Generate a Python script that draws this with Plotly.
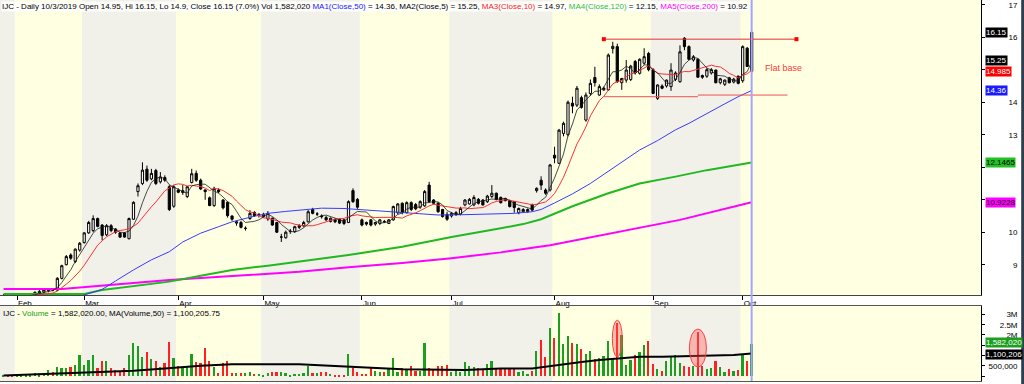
import pandas as pd
import plotly.graph_objects as go

# ---------------- data ----------------
holidays = ["2019-02-04", "2019-02-05", "2019-02-06", "2019-02-07", "2019-02-08",
            "2019-04-15", "2019-04-29", "2019-04-30", "2019-05-01", "2019-09-02"]
dates = [d for d in pd.bdate_range("2019-01-29", "2019-10-03")
         if d.strftime("%Y-%m-%d") not in holidays]

opens = [8.05, 8.05, 8.02, 8.00, 8.02, 8.04, 8.06, 8.08, 8.12, 8.16,
         8.20, 8.25, 8.22, 8.58, 9.00, 9.30, 9.10, 9.45, 9.68, 9.98,
         10.05, 10.42, 10.22, 9.92, 10.20, 10.10, 9.98, 9.98, 9.80, 10.40,
         11.25, 11.50, 11.94, 11.64, 11.90, 11.55, 11.68, 11.40, 10.80, 11.30,
         11.22, 11.10, 11.53, 11.81, 11.60, 11.30, 11.06, 10.82, 11.30, 10.99,
         10.92, 10.50, 10.28, 10.30, 10.12, 10.42, 10.61, 10.52, 10.48, 10.41,
         10.43, 10.30, 9.85, 9.83, 10.02, 10.02, 10.15, 10.20, 10.32, 10.70,
         10.56, 10.50, 10.45, 10.33, 10.39, 10.40, 10.38, 10.30, 11.28, 11.01,
         10.38, 10.30, 10.38, 10.25, 10.27, 10.33, 10.27, 10.38, 10.60, 10.89,
         10.60, 10.91, 10.85, 10.77, 10.81, 11.45, 10.99, 10.89, 10.70, 10.55,
         10.50, 10.55, 10.56, 10.84, 10.87, 10.84, 11.01, 10.99, 10.94, 11.10,
         11.20, 11.07, 11.04, 10.97, 10.94, 10.60, 10.63, 10.63, 10.84, 11.28,
         11.60, 11.30, 11.30, 12.37, 12.12, 13.04, 13.00, 13.97, 13.91, 14.14,
         13.45, 14.27, 14.76, 14.22, 14.38, 14.38, 15.65, 15.71, 14.60, 14.68,
         14.70, 15.25, 14.89, 15.20, 15.50, 15.00, 14.12, 14.50, 14.50, 14.48,
         14.70, 14.63, 15.97, 15.71, 15.30, 15.32, 14.82, 14.80, 14.90, 14.99,
         14.60, 14.55, 14.75, 14.62, 14.80, 14.66, 15.66, 14.95]
highs = [8.10, 8.10, 8.08, 8.08, 8.10, 8.12, 8.12, 8.18, 8.22, 8.28,
         8.28, 8.28, 8.62, 9.00, 9.30, 9.35, 9.50, 9.70, 10.00, 10.35,
         10.52, 10.45, 10.25, 10.25, 10.25, 10.12, 10.00, 10.00, 10.45, 10.95,
         11.50, 12.15, 12.05, 11.95, 11.95, 11.85, 11.75, 11.45, 11.45, 11.35,
         11.45, 11.42, 11.95, 11.90, 11.65, 11.32, 11.10, 11.40, 11.35, 11.02,
         10.95, 10.52, 10.35, 10.35, 10.18, 10.68, 10.65, 10.58, 10.60, 10.65,
         10.45, 10.32, 9.95, 10.05, 10.10, 10.20, 10.25, 10.35, 10.68, 10.75,
         10.62, 10.55, 10.50, 10.45, 10.42, 10.42, 10.40, 10.98, 11.35, 11.05,
         10.42, 10.33, 10.40, 10.32, 10.40, 10.38, 10.40, 10.82, 10.90, 10.92,
         10.95, 10.95, 10.90, 10.98, 11.30, 11.55, 11.02, 10.92, 10.72, 10.63,
         10.62, 10.65, 10.78, 11.02, 11.05, 11.14, 11.05, 11.02, 11.15, 11.45,
         11.22, 11.10, 11.06, 11.00, 10.96, 10.76, 10.74, 10.73, 10.88, 11.38,
         11.72, 11.35, 12.10, 12.63, 13.18, 13.40, 14.05, 14.17, 14.50, 14.20,
         14.30, 14.70, 15.09, 14.55, 14.48, 15.50, 15.86, 15.80, 14.75, 15.30,
         15.15, 15.30, 15.35, 15.66, 15.55, 15.05, 14.55, 14.55, 14.70, 15.20,
         14.95, 15.75, 16.00, 15.75, 15.45, 15.35, 14.85, 15.05, 15.05, 15.00,
         14.75, 14.70, 14.78, 14.75, 14.82, 15.75, 15.70, 16.15]
lows = [8.00, 8.00, 7.98, 7.95, 7.98, 8.00, 8.02, 8.05, 8.08, 8.12,
        8.15, 8.18, 8.20, 8.55, 8.98, 9.15, 9.05, 9.40, 9.65, 9.95,
        10.00, 10.15, 9.75, 9.88, 10.00, 9.95, 9.82, 9.83, 9.78, 10.38,
        11.10, 11.45, 11.55, 11.60, 11.45, 11.50, 11.55, 10.65, 10.75, 11.20,
        11.15, 11.05, 11.50, 11.55, 11.30, 11.00, 10.80, 10.78, 11.20, 10.70,
        10.45, 10.35, 10.20, 10.12, 10.05, 10.38, 10.48, 10.45, 10.45, 10.35,
        10.20, 9.98, 9.70, 9.80, 9.95, 9.98, 10.10, 10.15, 10.30, 10.55,
        10.50, 10.42, 10.35, 10.30, 10.28, 10.25, 10.22, 10.28, 10.90, 10.72,
        10.18, 10.20, 10.18, 10.20, 10.22, 10.28, 10.25, 10.35, 10.55, 10.55,
        10.58, 10.65, 10.68, 10.72, 10.78, 10.90, 10.85, 10.60, 10.45, 10.35,
        10.45, 10.50, 10.52, 10.80, 10.85, 10.80, 10.85, 10.82, 10.90, 11.05,
        10.98, 10.88, 10.95, 10.76, 10.60, 10.55, 10.60, 10.60, 10.64, 11.22,
        11.30, 11.15, 11.25, 12.12, 12.10, 12.95, 12.95, 13.66, 13.85, 13.80,
        13.40, 14.20, 14.48, 14.20, 14.35, 14.35, 15.50, 14.60, 14.38, 14.60,
        14.65, 14.85, 14.85, 15.15, 14.95, 14.25, 14.07, 14.40, 14.45, 14.35,
        14.65, 14.60, 15.60, 15.30, 15.25, 14.75, 14.72, 14.75, 14.85, 14.58,
        14.55, 14.50, 14.58, 14.58, 14.55, 14.60, 15.10, 14.90]
closes = [8.05, 8.02, 8.00, 8.02, 8.05, 8.08, 8.10, 8.15, 8.18, 8.24,
          8.25, 8.22, 8.58, 8.97, 9.25, 9.20, 9.48, 9.66, 9.98, 10.30,
          10.42, 10.18, 9.90, 10.20, 10.05, 10.00, 9.85, 9.85, 10.42, 10.92,
          11.43, 11.91, 11.60, 11.81, 11.50, 11.70, 11.60, 10.70, 11.40, 11.23,
          11.28, 11.40, 11.80, 11.60, 11.33, 11.25, 10.82, 11.35, 11.25, 10.75,
          10.51, 10.40, 10.32, 10.15, 10.12, 10.58, 10.51, 10.55, 10.55, 10.58,
          10.22, 10.00, 9.85, 10.00, 10.03, 10.17, 10.20, 10.30, 10.63, 10.58,
          10.56, 10.48, 10.38, 10.43, 10.32, 10.28, 10.27, 10.94, 10.94, 10.77,
          10.22, 10.25, 10.22, 10.30, 10.38, 10.32, 10.38, 10.79, 10.87, 10.60,
          10.91, 10.70, 10.72, 10.94, 11.25, 10.94, 10.89, 10.63, 10.48, 10.40,
          10.58, 10.60, 10.73, 10.99, 11.01, 11.07, 10.89, 10.84, 11.11, 11.20,
          11.01, 10.91, 10.97, 10.79, 10.76, 10.73, 10.70, 10.70, 10.68, 11.35,
          11.45, 11.20, 12.07, 12.28, 13.14, 13.35, 14.00, 13.88, 14.43, 13.84,
          14.22, 14.58, 14.60, 14.48, 14.43, 15.45, 15.72, 14.63, 14.73, 14.99,
          15.11, 14.91, 15.32, 15.40, 15.00, 14.27, 14.53, 14.43, 14.68, 14.99,
          14.90, 15.55, 15.71, 15.32, 15.40, 14.77, 14.77, 15.00, 15.00, 14.60,
          14.72, 14.68, 14.60, 14.71, 14.58, 15.71, 15.10, 16.15]
volumes = [50000, 50000, 20000, 20000, 20000, 50000, 80000, 130000, 50000, 160000,
           290000, 210000, 420000, 370000, 370000, 420000, 540000, 1020000, 540000, 780000,
           1020000, 370000, 730000, 730000, 370000, 290000, 260000, 370000, 1020000, 1630000,
           1460000, 940000, 1190000, 810000, 750000, 420000, 620000, 1670000, 860000, 490000,
           420000, 420000, 1070000, 700000, 650000, 1350000, 730000, 420000, 160000, 650000,
           730000, 160000, 130000, 160000, 160000, 210000, 100000, 100000, 50000, 160000,
           200000, 210000, 200000, 130000, 50000, 100000, 100000, 160000, 490000, 160000,
           160000, 200000, 200000, 100000, 20000, 20000, 30000, 1070000, 410000, 180000,
           100000, 100000, 370000, 260000, 180000, 210000, 370000, 860000, 210000, 370000,
           290000, 490000, 260000, 260000, 1590000, 370000, 290000, 490000, 490000, 540000,
           210000, 260000, 210000, 670000, 490000, 420000, 370000, 290000, 590000, 730000,
           370000, 370000, 370000, 370000, 370000, 210000, 240000, 100000, 240000, 1220000,
           1760000, 910000, 2330000, 1840000, 3060000, 1540000, 1950000, 1630000, 1540000, 1300000,
           1070000, 1220000, 830000, 860000, 980000, 1710000, 810000, 2570000, 2000000, 540000,
           780000, 1020000, 1150000, 1510000, 1710000, 590000, 330000, 260000, 750000, 980000,
           1020000, 650000, 490000, 460000, 490000, 2160000, 490000, 330000, 370000, 750000,
           420000, 210000, 330000, 260000, 290000, 1020000, 750000, 1582020]

# moving averages (bar index, value)
ma50_idx = [0, 10, 18, 22, 25, 29, 33, 37, 40, 44, 48, 51, 55, 59, 63, 66, 71, 76, 81,
            86, 92, 97, 103, 109, 114, 118, 120, 123, 127, 131, 135, 138, 142, 146,
            150, 153, 157, 161, 164, 167]
ma50_val = [7.55, 7.75, 8.07, 8.24, 8.50, 8.84, 9.15, 9.40, 9.70, 9.97, 10.17, 10.32,
            10.46, 10.58, 10.64, 10.68, 10.74, 10.73, 10.68, 10.63, 10.58, 10.53, 10.54,
            10.57, 10.58, 10.63, 10.70, 10.90, 11.18, 11.50, 11.87, 12.15, 12.53, 12.82,
            13.15, 13.35, 13.66, 13.95, 14.17, 14.36]
ma120_idx = [0, 18, 22, 29, 37, 44, 51, 59, 66, 77, 89, 100, 111, 116, 120, 127, 135,
             142, 150, 157, 167]
ma120_val = [8.10, 8.10, 8.22, 8.35, 8.48, 8.66, 8.84, 8.97, 9.09, 9.30, 9.55, 9.85,
             10.12, 10.25, 10.40, 10.80, 11.20, 11.50, 11.71, 11.91, 12.1465]
ma200_idx = [0, 13, 37, 51, 66, 77, 89, 100, 111, 122, 133, 144, 151, 167]
ma200_val = [8.25, 8.25, 8.53, 8.65, 8.78, 8.92, 9.05, 9.20, 9.38, 9.60, 9.90, 10.20,
             10.38, 10.9228]
vma50_idx = [0, 14, 29, 36, 44, 51, 66, 74, 81, 89, 103, 111, 118, 121, 126, 129, 133,
             137, 142, 147, 155, 163, 167]
vma50_val = [30000, 130000, 260000, 370000, 500000, 570000, 570000, 490000, 410000,
             330000, 290000, 360000, 370000, 460000, 620000, 680000, 780000, 860000,
             940000, 940000, 980000, 1020000, 1100205.75]

# drawn "flat base" markup (bar index, price)
base_x = [134, 155, 177]
base_top = 15.94
base_low = [14.17, 14.22]
circled_bars = [137, 155]

title_text = ("IJC - Daily 10/3/2019 Open 14.95, Hi 16.15, Lo 14.9, Close 16.15 (7.0%) Vol 1,582,020 "
              "<span style='color:#2020ff'>MA1(Close,50)</span> = 14.36, MA2(Close,5) = 15.25, "
              "<span style='color:#ff2020'>MA3(Close,10)</span> = 14.97, "
              "<span style='color:#30c030'>MA4(Close,120)</span> = 12.15, "
              "<span style='color:#ff00ff'>MA5(Close,200)</span> = 10.92")
vol_title_text = ("IJC - <span style='color:#20a020'>Volume</span> = 1,582,020.00, "
                  "MA(Volume,50) = 1,100,205.75")

# ---------------- derived ----------------
n = len(dates)
idx = list(range(n))
ma5 = pd.Series(closes).rolling(5, min_periods=1).mean().round(4).tolist()
ma10 = pd.Series(closes).rolling(10, min_periods=1).mean().round(4).tolist()
vol_colors = ["#1e9e1e" if c >= o else "#ff2020" for o, c in zip(opens, closes)]

month_starts = [i for i in range(n) if i == 0 or dates[i].month != dates[i - 1].month]
tick_idx = month_starts[1:]
tick_txt = [dates[i].strftime("%b") for i in tick_idx]

X_LO, X_HI = -0.8, 218.2
FONT = "Liberation Sans, Arial, sans-serif"
YELLOW = "#FFFFE2"
GREY = "#F1F1EA"

PRICE_DOM = [0.2257, 1.0]
VOL_DOM = [0.0, 0.1969]

fig = go.Figure()

# price pane
fig.add_trace(go.Candlestick(
    x=idx, open=opens, high=highs, low=lows, close=closes,
    increasing=dict(line=dict(color="black", width=1), fillcolor="white"),
    decreasing=dict(line=dict(color="black", width=1), fillcolor="black"),
    whiskerwidth=0, showlegend=False, hoverinfo="skip", xaxis="x", yaxis="y"))
fig.add_trace(go.Scatter(x=ma200_idx, y=ma200_val, mode="lines",
                         line=dict(color="#ff00ff", width=2), showlegend=False))
fig.add_trace(go.Scatter(x=ma120_idx, y=ma120_val, mode="lines",
                         line=dict(color="#22b822", width=2), showlegend=False))
fig.add_trace(go.Scatter(x=ma50_idx, y=ma50_val, mode="lines",
                         line=dict(color="#3a3aff", width=1), showlegend=False))
fig.add_trace(go.Scatter(x=idx, y=ma10, mode="lines",
                         line=dict(color="#ff3030", width=1), showlegend=False))
fig.add_trace(go.Scatter(x=idx, y=ma5, mode="lines",
                         line=dict(color="#202020", width=0.8), showlegend=False))
# flat base markup
fig.add_trace(go.Scatter(x=[base_x[0], base_x[2]], y=[base_top, base_top], mode="lines+markers",
                         line=dict(color="#e83030", width=1),
                         marker=dict(symbol="square", size=4, color="#ff0000"),
                         showlegend=False))
fig.add_trace(go.Scatter(x=[base_x[0], base_x[1], None, base_x[1], base_x[2] - 2],
                         y=[base_low[0], base_low[0], None, base_low[1], base_low[1]],
                         mode="lines", line=dict(color="#f05050", width=1), showlegend=False))

# volume pane
fig.add_trace(go.Bar(x=idx, y=volumes, marker=dict(color=vol_colors, line=dict(width=0)),
                     width=0.38, showlegend=False, xaxis="x2", yaxis="y2"))
fig.add_trace(go.Scatter(x=vma50_idx, y=vma50_val, mode="lines",
                         line=dict(color="#000000", width=2), showlegend=False,
                         xaxis="x2", yaxis="y2"))

shapes = []
bounds = [X_LO] + [s - 0.5 for s in month_starts[1:]] + [X_HI]
for k in range(len(bounds) - 1):
    if k % 2 == 0:
        for yr in ("y domain", "y2 domain"):
            shapes.append(dict(type="rect", xref="x", yref=yr, x0=bounds[k], x1=bounds[k + 1],
                               y0=0, y1=1, fillcolor=GREY, line=dict(width=0), layer="below"))
# circled volume bars
for b in circled_bars:
    v = volumes[b]
    half = 1.1 if v > 2.4e6 else 1.9
    shapes.append(dict(type="circle", xref="x2", yref="y2", x0=b - half, x1=b + half,
                       y0=v * 0.36 if v > 2.4e6 else v * 0.2, y1=v * 1.06,
                       fillcolor="rgba(255,90,90,0.38)", line=dict(color="#ff4040", width=1)))
# cursor line on last bar
shapes.append(dict(type="line", xref="x", yref="paper", x0=n - 1, x1=n - 1, y0=0, y1=1,
                   line=dict(color="#a4a4ff", width=2)))
# window border
shapes.append(dict(type="line", xref="paper", yref="paper", x0=1.0425, x1=1.0425, y0=-0.01, y1=1.01,
                   line=dict(color="#2f3f50", width=3)))

ann = []
ann.append(dict(xref="paper", yref="paper", x=0, y=1, xanchor="left", yanchor="top",
                text=title_text, showarrow=False, font=dict(family=FONT, size=8, color="#000"),
                bgcolor="rgba(255,255,255,0.85)", borderpad=0, xshift=1, yshift=-1))
ann.append(dict(xref="paper", yref="paper", x=0, y=VOL_DOM[1], xanchor="left", yanchor="top",
                text=vol_title_text, showarrow=False, font=dict(family=FONT, size=8, color="#000"),
                xshift=1, yshift=-1))
ann.append(dict(xref="x", yref="y", x=174, y=15.06, text="Flat base", showarrow=False,
                font=dict(family=FONT, size=9, color="#ff3a3a")))

markers = [(closes[-1], f"{closes[-1]:g}", "#000000", "#ffffff", "y", 0),
           (ma5[-1], f"{ma5[-1]:g}", "#000000", "#ffffff", "y", 1),
           (ma10[-1], f"{ma10[-1]:g}", "#ff0000", "#ffffff", "y", -1),
           (ma50_val[-1], f"{ma50_val[-1]:g}", "#1a1aff", "#ffffff", "y", 0),
           (ma120_val[-1], f"{ma120_val[-1]:g}", "#22c022", "#000000", "y", 0),
           (ma200_val[-1], f"{ma200_val[-1]:g}", "#ff00ff", "#000000", "y", 0),
           (volumes[-1], f"{volumes[-1]:,}", "#1e9e1e", "#ffffff", "y2", 1),
           (vma50_val[-1], f"{round(vma50_val[-1]):,}", "#000000", "#ffffff", "y2", -1)]
for val, txt, bg, fg, yr, ys in markers:
    ann.append(dict(xref="paper", yref=yr, x=1, y=val, xanchor="left", yanchor="middle",
                    text=txt, showarrow=False, bgcolor=bg, borderpad=0, xshift=4, yshift=ys,
                    font=dict(family=FONT, size=8, color=fg)))

NB = "\u00a0"
hidden_price_labels = [11, 12, 15]
price_ticktext = []
for v in range(9, 18):
    if v in hidden_price_labels:
        price_ticktext.append("")
    elif v < 10:
        price_ticktext.append(NB * 2 + str(v))
    else:
        price_ticktext.append(str(v))

fig.update_layout(
    width=1024, height=384,
    margin=dict(l=0, r=43, t=0, b=3),
    paper_bgcolor="white", plot_bgcolor=YELLOW,
    shapes=shapes, annotations=ann, bargap=0,
    font=dict(family=FONT, size=8, color="#000"),
    xaxis=dict(domain=[0, 1], anchor="y", range=[X_LO, X_HI], tickvals=tick_idx, ticktext=tick_txt,
               ticks="outside", ticklen=4, tickcolor="#000", ticklabelposition="outside right",
               tickfont=dict(family=FONT, size=8, color="#000"), showline=True, linecolor="#444",
               showgrid=False, zeroline=False, rangeslider=dict(visible=False), fixedrange=True),
    yaxis=dict(domain=PRICE_DOM, anchor="x", side="right", range=[8.068, 17.145],
               tickvals=list(range(9, 18)), ticktext=price_ticktext,
               ticks="outside", ticklen=3, tickcolor="#000", ticklabelstandoff=22,
               tickfont=dict(family=FONT, size=8, color="#000"),
               showline=True, linecolor="#000", showgrid=False, zeroline=False, fixedrange=True),
    xaxis2=dict(domain=[0, 1], anchor="y2", range=[X_LO, X_HI], showticklabels=False, ticks="",
                showline=True, mirror=True, linecolor="#555", showgrid=False, zeroline=False,
                fixedrange=True),
    yaxis2=dict(domain=VOL_DOM, anchor="x2", side="right", range=[-244000, 3415000],
                tickvals=[0, 500000, 1000000, 1500000, 2000000, 2500000, 3000000],
                ticktext=["", "500,000", "", "", NB * 8 + "2M", NB * 5 + "2.5M", NB * 8 + "3M"],
                ticks="outside", ticklen=3, tickcolor="#000", ticklabelstandoff=2,
                tickfont=dict(family=FONT, size=8, color="#000"),
                showline=True, linecolor="#000", showgrid=False, zeroline=False, fixedrange=True),
)

fig.write_html("out.html", config={"displayModeBar": False},
               post_script="document.body.style.margin='0px';")
